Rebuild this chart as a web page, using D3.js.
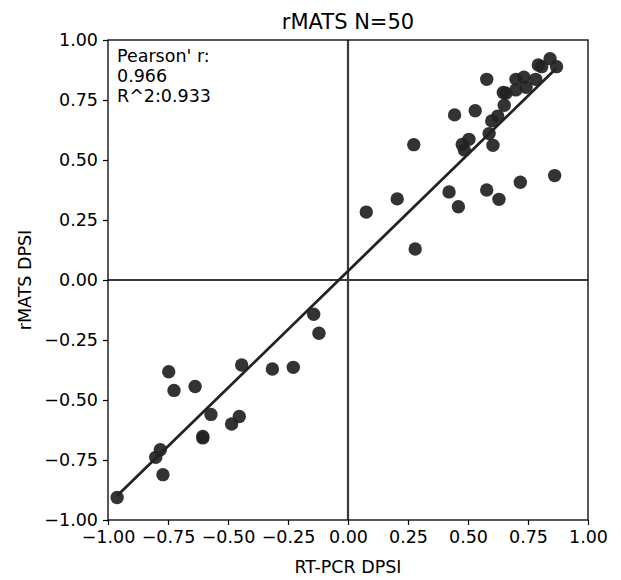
<!DOCTYPE html>
<html><head><meta charset="utf-8">
<script src="https://cdn.jsdelivr.net/npm/d3@7"></script>
<style>body{margin:0;background:#fff}</style>
</head><body>
<svg id="c" width="621" height="580"></svg>
<script>
const rtpcr = [0.578,0.842,0.869,0.793,0.807,0.782,0.700,0.733,0.742,0.699,0.647,0.658,0.651,0.444,0.530,0.624,0.599,0.588,0.504,0.476,0.485,0.604,0.274,0.861,0.718,0.578,0.629,0.421,0.460,0.205,0.076,0.280,
 -0.962,-0.801,-0.782,-0.771,-0.747,-0.725,-0.637,-0.605,-0.605,-0.571,-0.485,-0.453,-0.443,-0.315,-0.228,-0.143,-0.121];
const rmats = [0.836,0.922,0.889,0.896,0.889,0.836,0.836,0.845,0.803,0.792,0.781,0.778,0.728,0.688,0.705,0.683,0.663,0.610,0.586,0.565,0.542,0.561,0.564,0.435,0.407,0.375,0.336,0.367,0.305,0.338,0.283,0.129,
 -0.906,-0.739,-0.707,-0.811,-0.382,-0.460,-0.444,-0.658,-0.652,-0.560,-0.600,-0.569,-0.354,-0.371,-0.364,-0.143,-0.222];
const tickValues = [-1,-0.75,-0.5,-0.25,0,0.25,0.5,0.75,1];
const titleText = "rMATS N=50";
const xLabel = "RT-PCR DPSI";
const yLabel = "rMATS DPSI";
const statLines = ["Pearson' r:", "0.966", "R^2:0.933"];

const svg = d3.select("#c");
const font = "DejaVu Sans, Verdana, sans-serif";
const x = d3.scaleLinear().domain([-1,1]).range([108,588]);
const y = d3.scaleLinear().domain([-1,1]).range([520,40]);
const fmt = d => d3.format(".2f")(d).replace("-", "\u2212");

// zero lines
svg.append("line").attr("x1",x(0)).attr("x2",x(0)).attr("y1",y(-1)).attr("y2",y(1))
  .attr("stroke","#3a3a3a").attr("stroke-width",2.2);
svg.append("line").attr("x1",x(-1)).attr("x2",x(1)).attr("y1",y(0)).attr("y2",y(0))
  .attr("stroke","#3a3a3a").attr("stroke-width",2.2);

// regression
const pts = rtpcr.map((v,i)=>[v,rmats[i]]);
const mx = d3.mean(rtpcr), my = d3.mean(rmats);
const slope = d3.sum(pts,p=>(p[0]-mx)*(p[1]-my))/d3.sum(pts,p=>(p[0]-mx)**2);
const icpt = my - slope*mx;
const [x0,x1] = d3.extent(rtpcr);

svg.append("g").selectAll("circle").data(pts).join("circle")
  .attr("cx",d=>x(d[0])).attr("cy",d=>y(d[1])).attr("r",6.7)
  .attr("fill","#222").attr("fill-opacity",0.92);

svg.append("line").attr("x1",x(x0)).attr("y1",y(icpt+slope*x0))
  .attr("x2",x(x1)).attr("y2",y(icpt+slope*x1))
  .attr("stroke","#222").attr("stroke-width",2.8);

// axes
const gx = svg.append("g").attr("transform","translate(0,520)")
  .call(d3.axisBottom(x).tickValues(tickValues).tickFormat(fmt).tickSize(5).tickPadding(6));
const gy = svg.append("g").attr("transform","translate(108,0)")
  .call(d3.axisLeft(y).tickValues(tickValues).tickFormat(fmt).tickSize(5).tickPadding(5));
[gx,gy].forEach(g=>{
  g.select(".domain").remove();
  g.selectAll("line").attr("stroke","#000").attr("stroke-width",1.2);
  g.selectAll("text").attr("font-family",font).attr("font-size",17.5).attr("fill","#000");
});
svg.append("rect").attr("x",108).attr("y",40).attr("width",480).attr("height",480)
  .attr("fill","none").attr("stroke","#000").attr("stroke-width",1.3);

svg.append("text").attr("x",348).attr("y",29).attr("text-anchor","middle")
  .attr("font-family",font).attr("font-size",21).text(titleText);
svg.append("text").attr("x",348).attr("y",573).attr("text-anchor","middle")
  .attr("font-family",font).attr("font-size",17.5).text(xLabel);
svg.append("text").attr("transform","translate(31,280) rotate(-90)").attr("text-anchor","middle")
  .attr("font-family",font).attr("font-size",17.5).text(yLabel);
svg.append("g").selectAll("text").data(statLines).join("text")
  .attr("x",117).attr("y",(d,i)=>62+i*20)
  .attr("font-family",font).attr("font-size",17.5).attr("fill","#000").text(d=>d);
</script>
</body></html>
